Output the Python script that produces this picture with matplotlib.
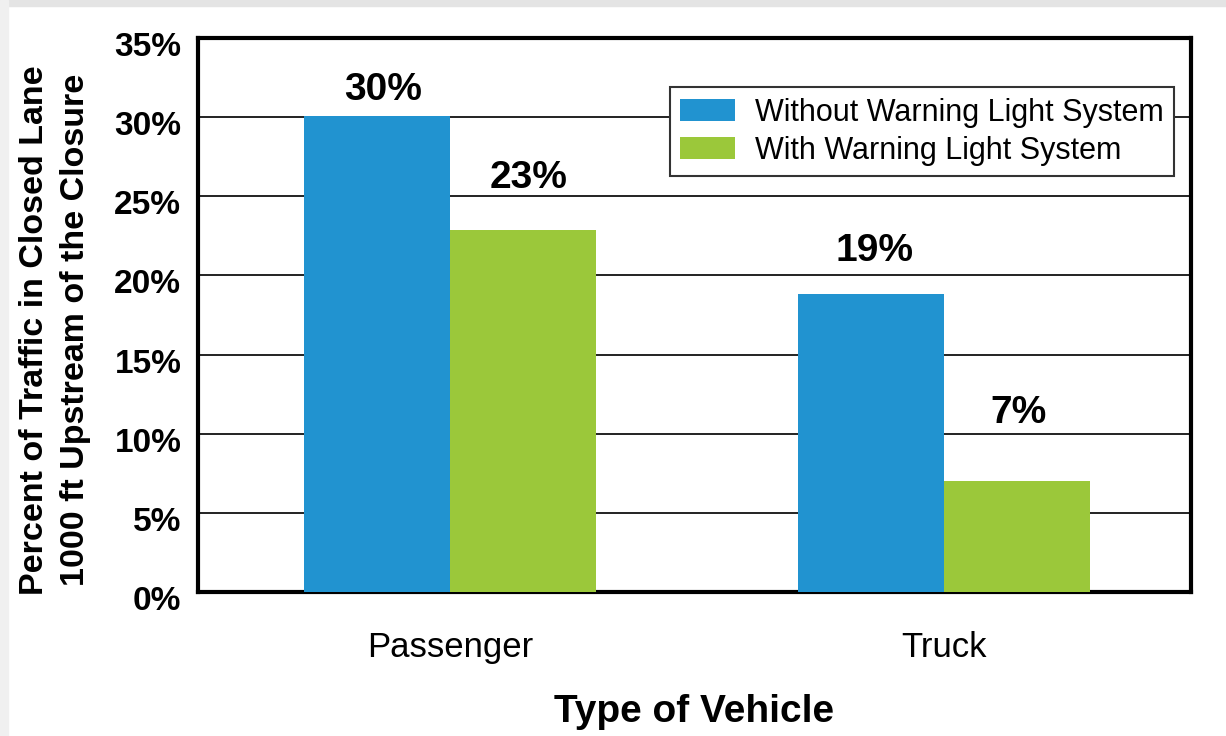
import matplotlib
matplotlib.use("Agg")
import matplotlib.pyplot as plt
import matplotlib.transforms as mtransforms
import numpy as np

plt.rcParams["font.family"] = ["Liberation Sans", "DejaVu Sans"]

categories = ["Passenger", "Truck"]
series_names = ["Without Warning Light System", "With Warning Light System"]
without_light = [30.1, 18.8]
with_light = [22.9, 7.0]
without_labels = ["30%", "19%"]
with_labels = ["23%", "7%"]
y_ticks = [0, 5, 10, 15, 20, 25, 30, 35]

BLUE = "#2193d0"
GREEN = "#9bc83a"

fig = plt.figure(figsize=(12.26, 7.36), dpi=100)
fig.patch.set_facecolor("white")
# thin grey frame of the original screenshot
fig.patches.append(plt.Rectangle((0, 1 - 6 / 736), 1, 6 / 736, transform=fig.transFigure,
                                 color="#e4e4e4", zorder=0))
fig.patches.append(plt.Rectangle((0, 0), 8 / 1226, 1, transform=fig.transFigure,
                                 color="#f0f0f0", zorder=0))

ax = fig.add_axes([198 / 1226, 1 - 592 / 736, (1191 - 198) / 1226, (592 - 38) / 736])

x = np.arange(len(categories))
w = 0.296
b1 = ax.bar(x - w / 2, without_light, w, color=BLUE, linewidth=0, label=series_names[0], zorder=3)
b2 = ax.bar(x + w / 2, with_light, w, color=GREEN, linewidth=0, label=series_names[1], zorder=3)

# label offsets above bar tops (pixels), as in the original
off_without = [(6, 26), (4, 43)]
off_with = [(5, 52), (1, 68)]
for bars, labels, offs in [(b1, without_labels, off_without), (b2, with_labels, off_with)]:
    for rect, txt, off in zip(bars, labels, offs):
        ax.annotate(txt, (rect.get_x() + rect.get_width() / 2, rect.get_height()),
                    xytext=off, textcoords="offset pixels", ha="center", va="center",
                    fontsize=28, fontweight="bold", zorder=4)

ax.set_xlim(-0.51, 1.5)
ax.set_ylim(0, 35)
ax.set_yticks(y_ticks)
ax.set_yticklabels([f"{t}%" for t in y_ticks], fontsize=24, fontweight="bold")
ax.set_xticks(x)
ax.set_xticklabels(categories, fontsize=25)
ax.tick_params(axis="y", length=0, pad=12)
ax.tick_params(axis="x", length=0, pad=28)
shift = mtransforms.ScaledTranslation(0, -6 / 100, fig.dpi_scale_trans)
for lab in ax.get_yticklabels():
    lab.set_transform(lab.get_transform() + shift)

ax.yaxis.grid(True, color="#222222", linewidth=1.4, zorder=1)
ax.set_axisbelow(True)
for s in ax.spines.values():
    s.set_linewidth(3)
    s.set_color("black")

ax.set_xlabel("Type of Vehicle", fontsize=28, fontweight="bold", labelpad=22)
fig.text(55 / 1226, 1 - 330 / 736,
         "Percent of Traffic in Closed Lane\n1000 ft Upstream of the Closure",
         rotation=90, ha="center", va="center", multialignment="center",
         fontsize=24.5, fontweight="bold", linespacing=1.38)

leg = ax.legend(loc="upper right", bbox_to_anchor=(0.983, 0.911), fontsize=22,
                fancybox=False, framealpha=1, edgecolor="#333333",
                handlelength=1.8, handleheight=0.75, handletextpad=0.64,
                borderpad=0.34, labelspacing=0.26, borderaxespad=0)
leg.get_frame().set_linewidth(1.5)

fig.savefig("out.png", dpi=100)
